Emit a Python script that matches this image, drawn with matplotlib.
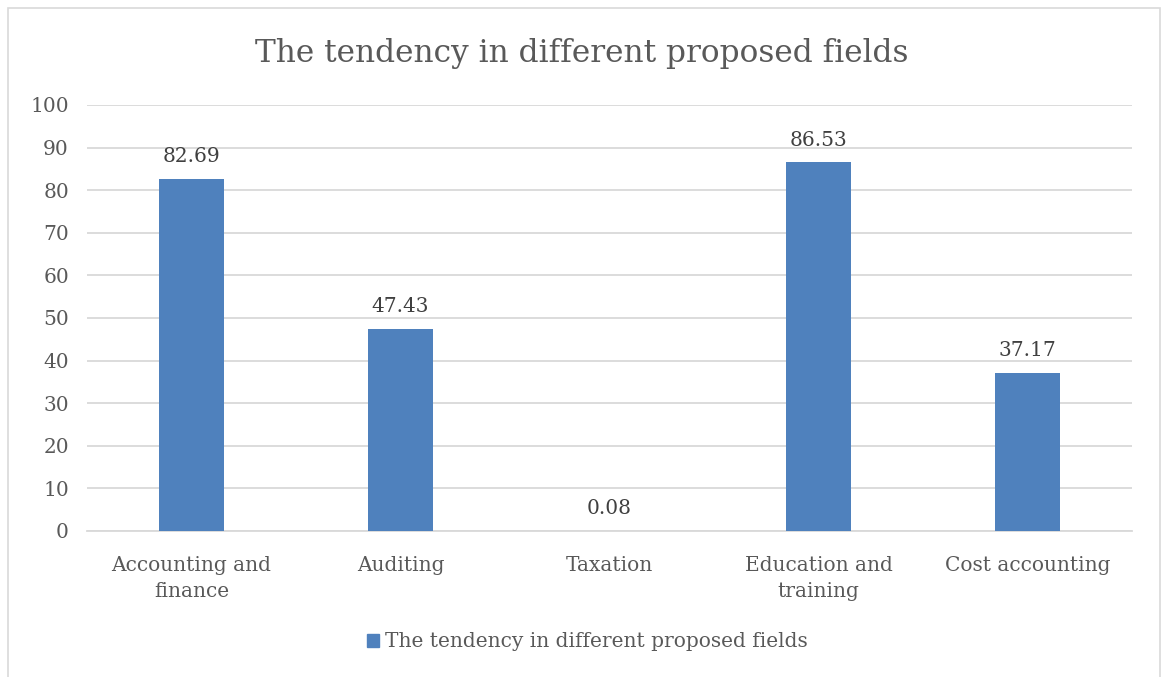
import matplotlib
matplotlib.use("Agg")
import matplotlib.pyplot as plt
import matplotlib.patches as mpatches
import numpy as np

categories = ["Accounting and\nfinance", "Auditing", "Taxation",
              "Education and\ntraining", "Cost accounting"]
values = [82.69, 47.43, 0.08, 86.53, 37.17]
value_labels = ["82.69", "47.43", "0.08", "86.53", "37.17"]
series_name = "The tendency in different proposed fields"
y_ticks = list(range(0, 101, 10))

bar_color = '#4f81bd'
text_color = '#595959'
grid_color = '#d9d9d9'

plt.rcParams['font.family'] = ['DejaVu Serif']

fig = plt.figure(figsize=(11.63, 6.77), dpi=100)
ax = fig.add_axes([0.0748, 0.2157, 0.8985, 0.6293])

# chart frame
fig.patches.append(mpatches.Rectangle((8 / 1163, -0.01), 1152 / 1163, 1 - 8 / 677 + 0.01,
                                      transform=fig.transFigure, fill=False,
                                      edgecolor=grid_color, linewidth=1.2))

x = np.arange(len(categories))
ax.bar(x, values, width=0.31, color=bar_color, zorder=3, label=series_name)

for xi, v, lab in zip(x, values, value_labels):
    ax.text(xi, v + 3.0, lab, ha='center', va='bottom', fontsize=14.5, color='#404040')

ax.set_xlim(-0.5, len(categories) - 0.5)
ax.set_ylim(0, 100)
ax.set_yticks(y_ticks)
ax.set_yticklabels([str(t) for t in y_ticks], fontsize=14.5, color=text_color)
ax.set_xticks(x)
ax.set_xticklabels(categories, fontsize=14.5, color=text_color, linespacing=1.5)
ax.tick_params(axis='both', length=0)
ax.tick_params(axis='y', pad=13)
ax.tick_params(axis='x', pad=18)

ax.grid(axis='y', color=grid_color, linewidth=1.3, zorder=0)
for side in ['top', 'right', 'left']:
    ax.spines[side].set_visible(False)
ax.spines['bottom'].set_color(grid_color)
ax.spines['bottom'].set_linewidth(1.3)

fig.text(0.5, 0.921, series_name, ha='center', va='center', fontsize=22.5, color=text_color)

handles = [mpatches.Patch(color=bar_color, label=series_name)]
fig.legend(handles=handles, loc='center', bbox_to_anchor=(0.505, 0.052), frameon=False,
           fontsize=14.5, handlelength=0.6, handleheight=0.6, handletextpad=0.3,
           labelcolor=text_color)

fig.savefig("out.png", dpi=100)
